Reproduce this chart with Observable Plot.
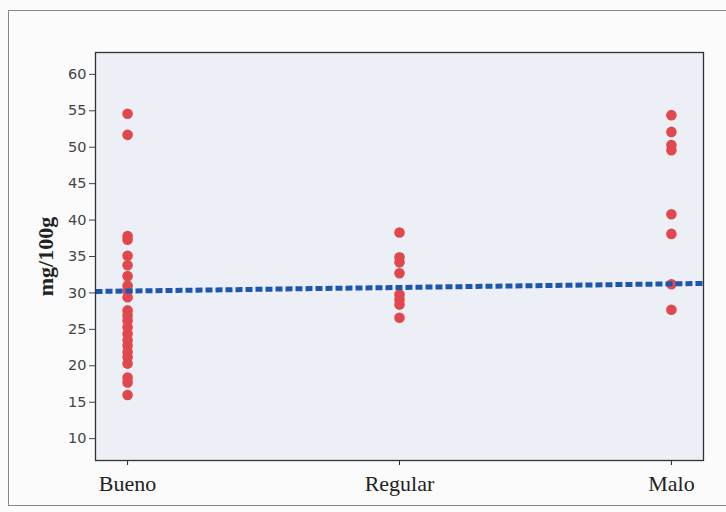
<!DOCTYPE html>
<html><head><meta charset="utf-8">
<script src="https://cdn.jsdelivr.net/npm/d3@7"></script>
<script src="https://cdn.jsdelivr.net/npm/@observablehq/plot@0.6"></script>
<style>
html,body{margin:0;padding:0;background:#fbfbfb;}
#wrap{position:relative;width:726px;height:512px;overflow:hidden;}
#border{position:absolute;left:8px;top:10px;width:760px;height:494px;border:1.5px solid #888;pointer-events:none;}
#wrap svg{position:absolute;left:0;top:0;background:transparent;}
</style></head><body><div id="wrap"><div id="border"></div></div>
<script>
const categories = ["Bueno", "Regular", "Malo"];
const buenoValues = [54.6, 51.7, 37.8, 37.3, 35.1, 33.8, 32.3, 31.0, 30.3, 29.4, 27.6, 26.9, 26.2, 25.3, 24.4, 23.5, 22.8, 21.9, 21.2, 20.3, 18.4, 17.7, 16.0];
const regularValues = [38.3, 34.9, 34.2, 32.7, 29.8, 29.1, 28.4, 26.6];
const maloValues = [54.4, 52.1, 50.3, 49.6, 40.8, 38.1, 31.2, 27.7];
const yTicks = [10, 15, 20, 25, 30, 35, 40, 45, 50, 55, 60];
const trendX = [-0.118, 2.118];
const trendY = [30.2, 31.3];
const yLabel = "mg/100g";

const valuesByCat = [buenoValues, regularValues, maloValues];
const rows = categories.flatMap((c, i) => valuesByCat[i].map(v => ({x: i, y: v})));
const trend = trendX.map((x, i) => ({x, y: trendY[i]}));

const chart = Plot.plot({
  width: 726, height: 512,
  marginLeft: 95, marginRight: 23, marginTop: 52, marginBottom: 52,
  style: {background: "transparent", fontFamily: "DejaVu Sans"},
  x: {type: "linear", domain: [-0.118, 2.118]},
  y: {domain: [7, 63]},
  marks: [
    Plot.frame({fill: "#eceff6"}),
    Plot.axisY({ticks: yTicks, tickSize: 6, tickPadding: 3, fontSize: 14.5, fontFamily: "DejaVu Sans", color: "#444", label: null}),
    Plot.axisX({ticks: [0, 1, 2], tickFormat: i => categories[i], tickSize: 5, tickPadding: 10, fontSize: 22, fontFamily: "Liberation Serif", color: "#222", label: null}),
    Plot.text([yLabel], {frameAnchor: "left", textAnchor: "middle", dx: -50, rotate: -90, fontSize: 22, fontWeight: "bold", fontFamily: "Liberation Serif", fill: "#222"}),
    Plot.dot(rows, {x: "x", y: "y", r: 5.3, fill: "#e0484d", stroke: "none"}),
    Plot.line(trend, {x: "x", y: "y", stroke: "#1a56b2", strokeWidth: 5, strokeDasharray: "7,3", strokeLinecap: "butt"}),
    Plot.frame({stroke: "#333", strokeWidth: 1.3})
  ]
});
document.getElementById("wrap").appendChild(chart);
</script></body></html>
